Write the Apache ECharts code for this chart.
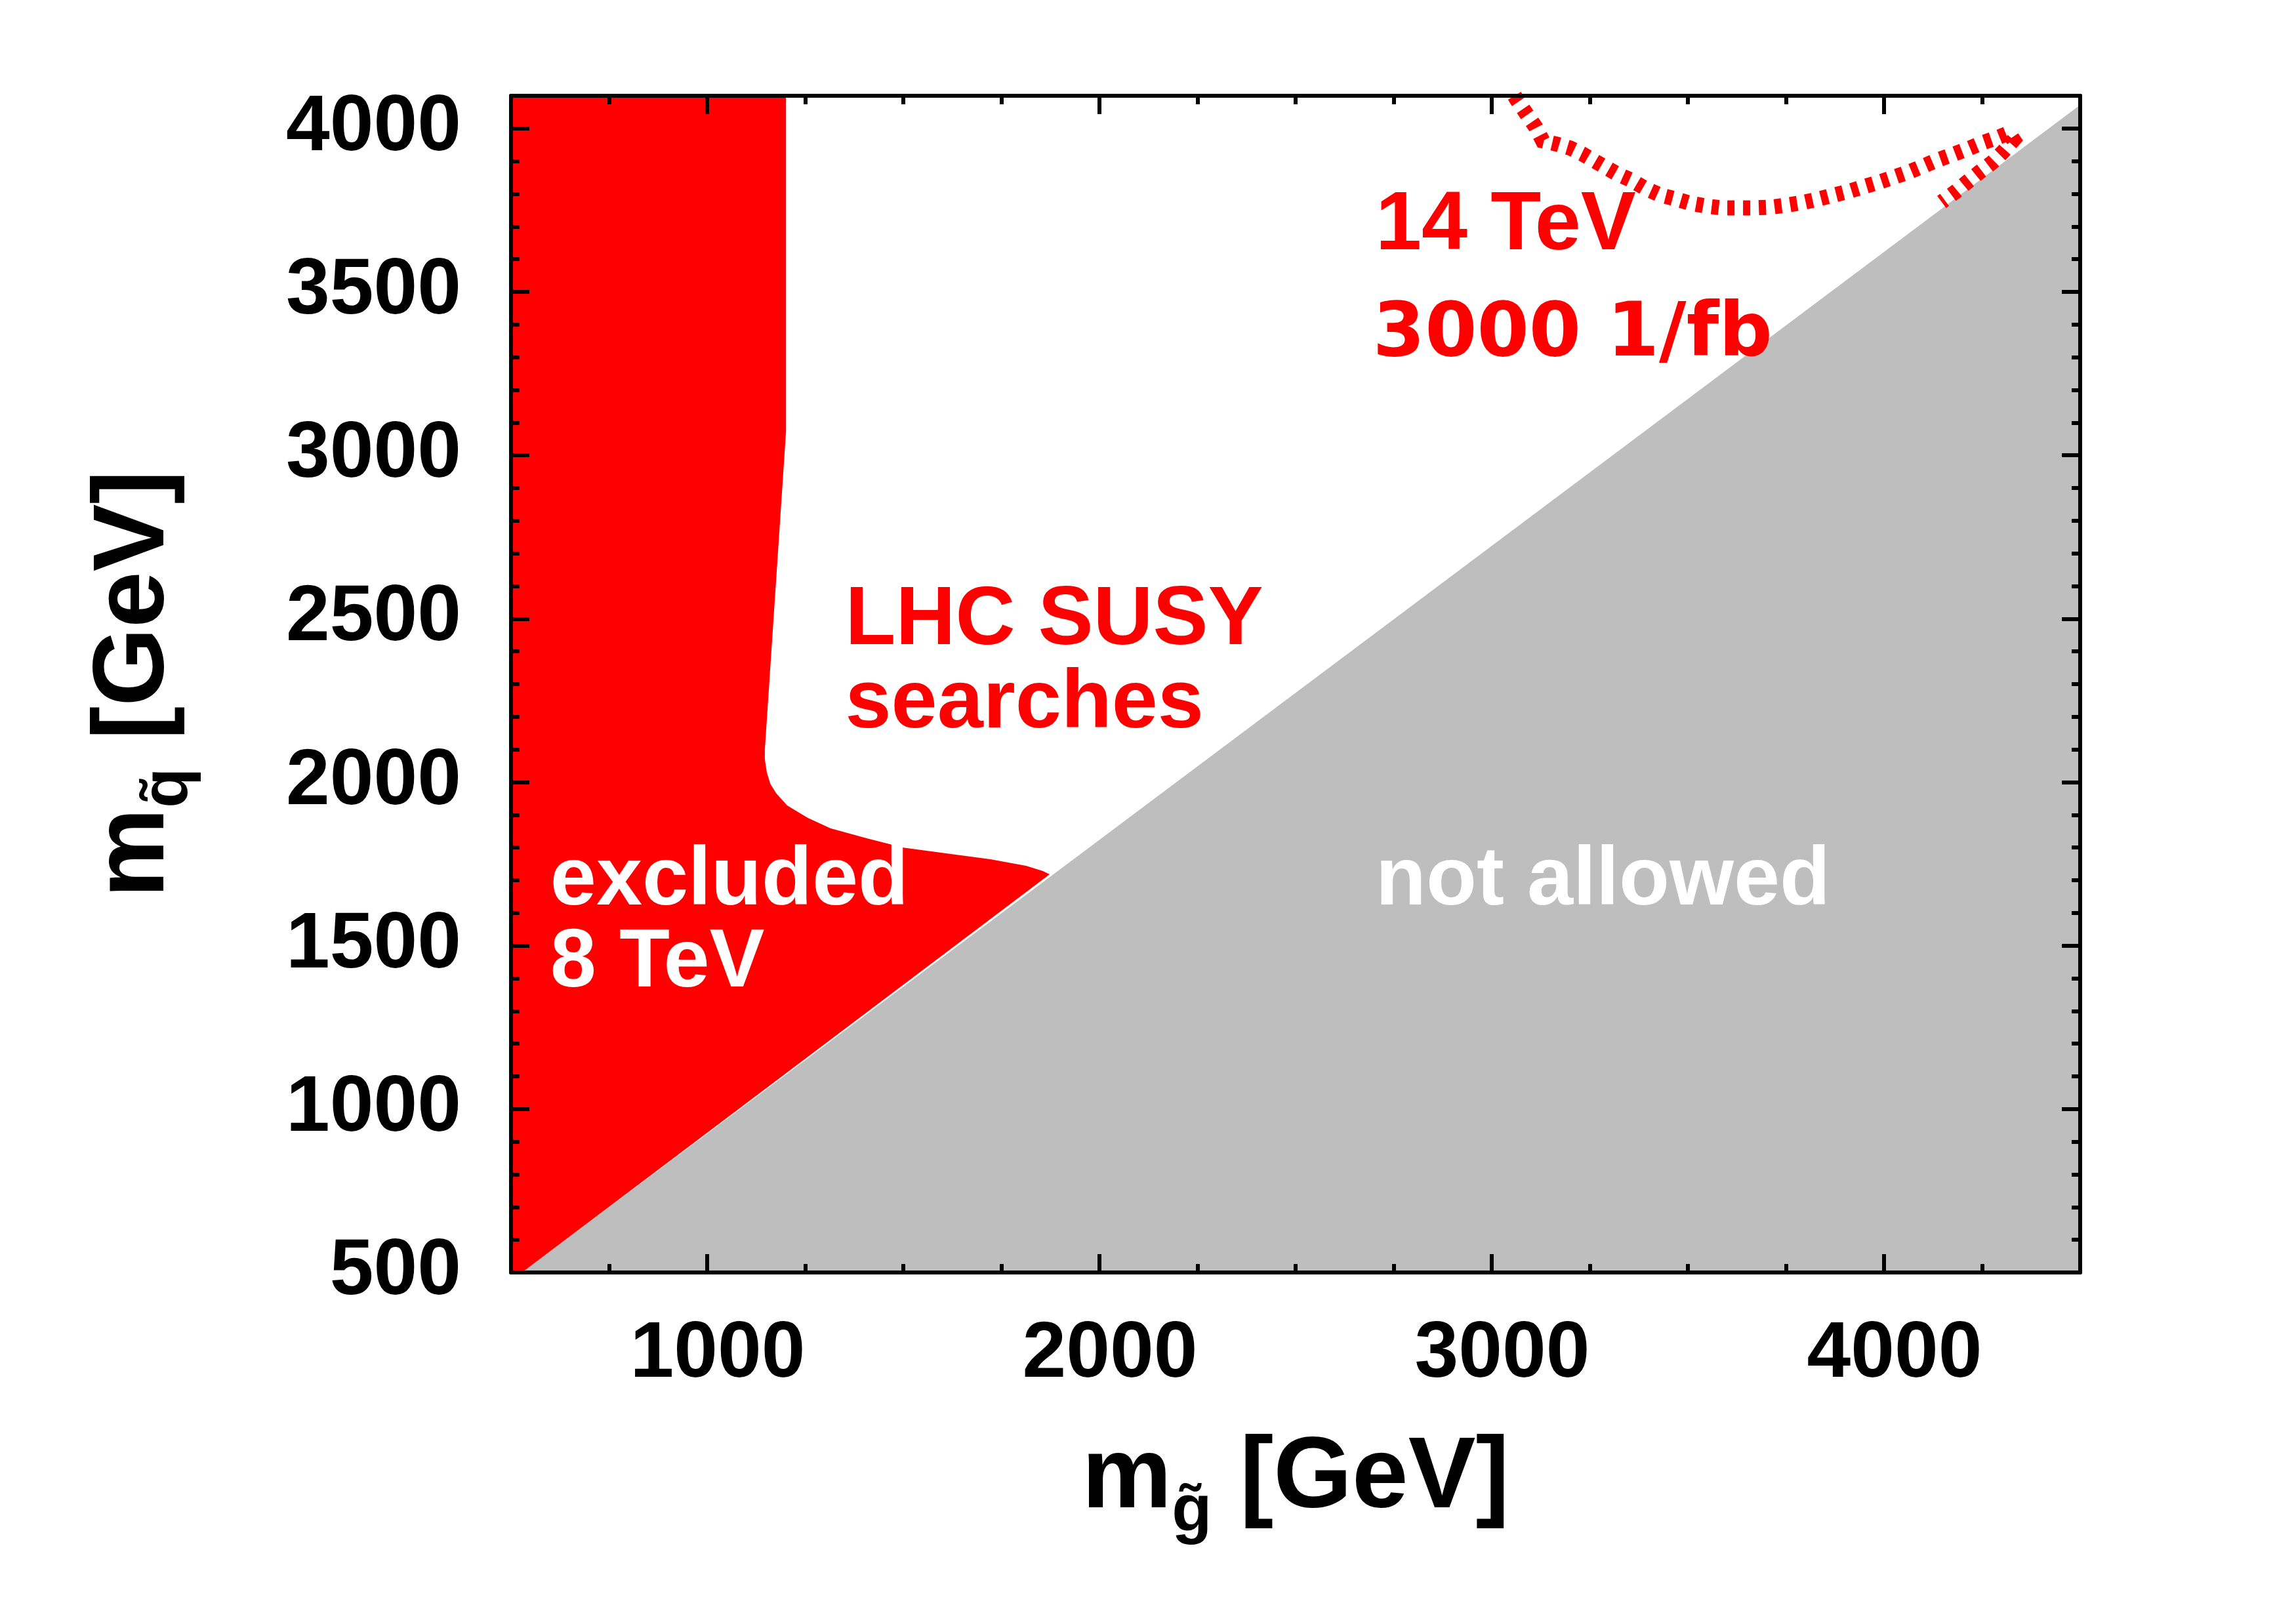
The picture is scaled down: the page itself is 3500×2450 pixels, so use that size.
<!DOCTYPE html>
<html><head><meta charset="utf-8">
<script src="https://cdn.jsdelivr.net/npm/echarts@6/dist/echarts.min.js"></script>
<style>html,body{margin:0;padding:0;background:#fff}#c{width:3500px;height:2450px}</style>
</head><body><div id="c"></div>
<script>
// ---- data ----
const xTickLabels = [1000, 2000, 3000, 4000];
const yTickLabels = [500, 1000, 1500, 2000, 2500, 3000, 3500, 4000];
// 8 TeV exclusion boundary, from top edge down to the kinematic line
const excludedBoundary = [[1201,4100],[1201,3073],[1147,2100],[1147,2070],[1152,2030],[1161,1995],[1176,1966],[1204,1929],[1256,1891],[1314,1859],[1405,1829],[1500,1800],[1612,1782],[1722,1764],[1813,1744],[1856,1728],[1873,1718]];
// kinematic boundary of "not allowed" region
const diagonal = [[528,500],[4500,4072]];
// 14 TeV, 3000 1/fb reach (dotted)
const reach14 = [[3058,4100],[3065,4086],[3089,4044],[3112,4004],[3130,3962],[3166,3952],[3200,3940],[3231,3922],[3283,3886],[3318,3862],[3355,3842],[3391,3817],[3428,3797],[3467,3785],[3507,3771],[3545,3763],[3587,3757],[3627,3757],[3667,3757],[3709,3759],[3749,3765],[3791,3773],[3829,3783],[3868,3795],[3908,3807],[3946,3821],[3985,3835],[4025,3851],[4064,3867],[4100,3885],[4135,3903],[4175,3920],[4214,3938],[4250,3956],[4289,3972],[4318,3986],[4330,3965],[4303,3928],[4276,3896],[4242,3865],[4211,3835],[4181,3805],[4147,3775]];
// text annotations
const annotations = [
  {text:'14 TeV', at:[2704,3701], color:'#ff0000', font:'Liberation Sans', size:126},
  {text:'3000 1/fb', at:[2697,3365], color:'#ff0000', font:'DejaVu Sans', size:114},
  {text:'LHC SUSY', at:[1352,2493], color:'#ff0000', font:'Liberation Sans', size:126},
  {text:'searches', at:[1352,2238], color:'#ff0000', font:'Liberation Sans', size:126},
  {text:'excluded', at:[600,1695], color:'#ffffff', font:'Liberation Sans', size:126},
  {text:'8 TeV', at:[600,1444], color:'#ffffff', font:'Liberation Sans', size:126},
  {text:'not allowed', at:[2704,1695], color:'#ffffff', font:'Liberation Sans', size:126}
];
const X_MIN = 500, X_MAX = 4500, Y_MIN = 500, Y_MAX = 4100;

// ---- chart ----
const FONT = 'Liberation Sans';
const RED = '#ff0000', GREY = '#bebebe';
const chart = echarts.init(document.getElementById('c'), null, {renderer:'canvas'});

const redPoly = [[X_MIN, Y_MAX]].concat(excludedBoundary, [diagonal[0], [X_MIN, Y_MIN]]);
const greyPoly = [diagonal[0], diagonal[1], [X_MAX, Y_MIN]];

function polySeries(name, pts, color, z) {
  return {
    type:'custom', name, z, silent:true, clip:true,
    coordinateSystem:'cartesian2d', xAxisIndex:0, yAxisIndex:0,
    data:[pts[0]],
    renderItem:(params, api) => ({
      type:'polygon',
      shape:{points: pts.map(p => api.coord(p))},
      style:{fill: color}
    })
  };
}

const tickStyle = {color:'#000', width:6};
const plain = v => String(v);
function xAx(pos, opts) {
  return Object.assign({
    type:'value', position:pos, min:X_MIN, max:X_MAX, interval:250, z:10,
    axisLine:{show:true, onZero:false, lineStyle:{color:'#000', width:6}},
    axisTick:{show:true, inside:true, length:13, lineStyle:tickStyle},
    axisLabel:{show:false}, splitLine:{show:false}
  }, opts);
}
function yAx(pos, opts) {
  return Object.assign({
    type:'value', position:pos, min:Y_MIN, max:Y_MAX, interval:100, z:10,
    axisLine:{show:true, onZero:false, lineStyle:{color:'#000', width:6}},
    axisTick:{show:true, inside:true, length:13, lineStyle:tickStyle},
    axisLabel:{show:false}, splitLine:{show:false}
  }, opts);
}
const labelStyle = {fontSize:120, fontWeight:'bold', fontFamily:FONT, color:'#000', formatter:plain};
const nameRich = {
  a:{fontSize:154, fontWeight:'bold', fontFamily:FONT, color:'#000', lineHeight:200},
  s:{fontSize:100, fontWeight:'bold', fontFamily:FONT, color:'#000', lineHeight:100, verticalAlign:'bottom'}
};

chart.setOption({
  animation:false,
  backgroundColor:'#ffffff',
  textStyle:{fontFamily:FONT},
  grid:{left:779, right:329, top:146, bottom:510, containLabel:false},
  xAxis:[
    xAx('bottom', {
      axisLabel:Object.assign({show:true, customValues:xTickLabels, margin:66, padding:[0,0,0,32]}, labelStyle),
      name:'{a|m}{s|g\u0303}{a| [GeV]}', nameLocation:'middle', nameGap:216,
      nameTextStyle:{rich:nameRich}
    }),
    xAx('bottom', {axisLine:{show:false}, axisTick:{show:true, inside:true, length:28, customValues:xTickLabels, lineStyle:tickStyle}}),
    xAx('top', {}),
    xAx('top', {axisLine:{show:false}, axisTick:{show:true, inside:true, length:28, customValues:xTickLabels, lineStyle:tickStyle}})
  ],
  yAxis:[
    yAx('left', {
      axisLabel:Object.assign({show:true, customValues:yTickLabels, margin:76}, labelStyle),
      name:'{a|m}{s|q\u0303}{a| [GeV]}', nameLocation:'middle', nameGap:472, nameRotate:90,
      nameTextStyle:{rich:nameRich}
    }),
    yAx('left', {axisLine:{show:false}, axisTick:{show:true, inside:true, length:28, customValues:yTickLabels, lineStyle:tickStyle}}),
    yAx('right', {}),
    yAx('right', {axisLine:{show:false}, axisTick:{show:true, inside:true, length:28, customValues:yTickLabels, lineStyle:tickStyle}})
  ],
  series:[
    polySeries('not allowed', greyPoly, GREY, 1),
    polySeries('excluded 8 TeV', redPoly, RED, 2),
    {
      type:'line', name:'14 TeV 3000 1/fb', z:3, silent:true, clip:true,
      xAxisIndex:0, yAxisIndex:0, data:reach14, showSymbol:false, symbol:'none',
      lineStyle:{color:RED, width:23, type:[11,13], cap:'butt', join:'miter'}
    },
    {
      type:'custom', name:'labels', z:5, silent:true,
      coordinateSystem:'cartesian2d', xAxisIndex:0, yAxisIndex:0,
      data:annotations.map(a => a.at),
      renderItem:(params, api) => {
        const a = annotations[params.dataIndex];
        const p = api.coord(a.at);
        return {type:'text', x:p[0], y:p[1], style:{text:a.text, fill:a.color, font:'bold ' + a.size + 'px "' + a.font + '"', align:'left', verticalAlign:'middle'}};
      }
    }
  ]
});
</script></body></html>
